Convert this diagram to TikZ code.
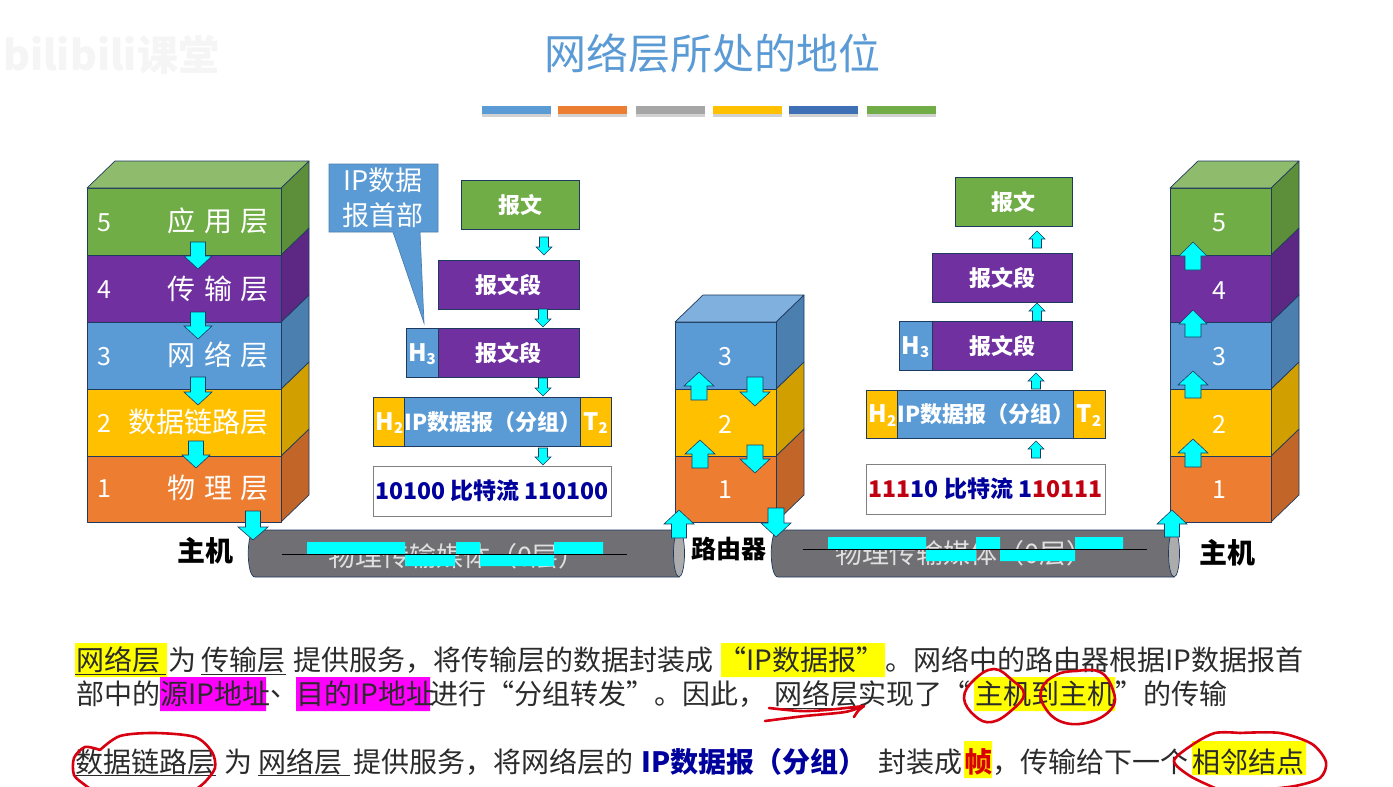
\documentclass[tikz,border=0pt]{standalone}
\usepackage{fontspec}
\setmainfont{Noto Sans CJK SC}
\usetikzlibrary{calc}
\definecolor{cgreen}{HTML}{70AD47}\definecolor{cgreenS}{HTML}{5D8F3A}\definecolor{cgreenT}{HTML}{8FBC6C}
\definecolor{cpurple}{HTML}{7030A0}\definecolor{cpurpleS}{HTML}{5C2883}
\definecolor{cblue}{HTML}{5B9BD5}\definecolor{cblueS}{HTML}{4A7FB0}\definecolor{cblueT}{HTML}{7FB0DE}
\definecolor{cgold}{HTML}{FFC000}\definecolor{cgoldS}{HTML}{D1A000}
\definecolor{corange}{HTML}{ED7D31}\definecolor{corangeS}{HTML}{C26529}
\definecolor{cnavy}{HTML}{1F3A5F}\definecolor{ink}{HTML}{2B2B2B}\definecolor{ccyan}{HTML}{00FFFF}
\definecolor{cmag}{HTML}{FF00FF}\definecolor{cyel}{HTML}{FFFF00}\definecolor{cred}{HTML}{D80010}
\definecolor{bitblue}{HTML}{00009C}\definecolor{bitred}{HTML}{C00010}
\definecolor{cbar}{HTML}{3F6FB5}\definecolor{ccable}{HTML}{707074}
\newcommand{\fs}[1]{\fontsize{#1}{#1}\selectfont}
\newcommand{\lowidx}[1]{\raisebox{-3.5pt}{\fs{15}#1}}
\tikzset{
 edge/.style={draw=cnavy,line width=.7pt,line join=round},
 stacklabel/.style={text=white,font=\fs{28},inner sep=0pt,anchor=east},
 numlabel/.style={text=white,font=\fs{25},inner sep=0pt},
 hostlabel/.style={text=black,font=\fs{28}\bfseries,inner sep=0pt},
 para/.style={text=ink,font=\fs{28},inner sep=0pt,anchor=west},
 uline/.style={draw=ink,line width=.9pt},
 blockarrow/.style={fill=ccyan,draw=cnavy,line width=.6pt,line join=miter},
 pen/.style={draw=cred,line width=2.6pt,line cap=round,line join=round},
}
% \boxn{name}{x0}{y0}{x1}{y1}{fill}{text}
\newcommand{\boxn}[7]{\path let \n1={#4-#2},\n2={#5-#3} in node[draw=cnavy,line width=.7pt,fill=#6,inner sep=0pt,outer sep=0pt,
   minimum width=\n1*1pt,minimum height=\n2*1pt,text height=17pt,text depth=0pt,text=white,font=\fs{22}\bfseries] (#1) at ({(#2+#4)/2},{(#3+#5)/2}) {#7};}
% \layer{x0}{x1}{ytop}{ybot}{front}{side}
\newcommand{\layer}[6]{%
 \path[edge,fill=#6] (#2,#3) -- ++(28,-27) -- ++(0,#4-#3) -- (#2,#4) -- cycle;
 \path[edge,fill=#5] (#1,#3) rectangle (#2,#4);}
\newcommand{\topface}[4]{\path[edge,fill=#4] (#1,#3) -- ++(28,-27) -- ++(#2-#1,0) -- (#2,#3) -- cycle;}
% \adown{cx}{ytop}{ytip}{headhalf}{shafthalf}{headlen}
\newcommand{\adown}[6]{\path[blockarrow] ({#1-#5},#2) -- ({#1+#5},#2) -- ({#1+#5},{#3-#6}) -- ({#1+#4},{#3-#6}) -- (#1,#3) -- ({#1-#4},{#3-#6}) -- ({#1-#5},{#3-#6}) -- cycle;}
% \aup{cx}{ytip}{ybot}{headhalf}{shafthalf}{headlen}
\newcommand{\aup}[6]{\path[blockarrow] ({#1-#5},#3) -- ({#1+#5},#3) -- ({#1+#5},{#2+#6}) -- ({#1+#4},{#2+#6}) -- (#1,#2) -- ({#1-#4},{#2+#6}) -- ({#1-#5},{#2+#6}) -- cycle;}
% \cable{x0}{x1}
\newcommand{\cable}[2]{%
 \path[edge,fill=ccable] ({#1+7},530) -- ({#2-5},530) -- ({#2-5},577) -- ({#1+7},577) .. controls ({#1-2},577) and ({#1-2},530) .. ({#1+7},530) -- cycle;
 \path[edge,fill=gray!65] ({#2-5},553.5) ellipse[x radius=5.5,y radius=23.5];}
\begin{document}
\begin{tikzpicture}[x=1pt,y=-1pt]
\useasboundingbox (0,0) rectangle (1393,787);
\fill[white] (0,0) rectangle (1393,787);
% watermark
\node[text=black!4,font=\fs{41}\bfseries,inner sep=0pt,anchor=west] (wm) at (3,55) {bilibili课堂};
% title
\node[text=cblue,font=\fs{42},inner sep=0pt] (title) at (712,53) {网络层所处的地位};
% bars
\foreach \xa/\c in {482/cblue,558/corange,636/gray!70,713/cgold,789/cbar,867/cgreen}{
 \fill[black!18] (\xa,108) rectangle ({\xa+69},117);
 \fill[\c] (\xa,106) rectangle ({\xa+69},114);
}
% left stack
\layer{87}{281}{456}{522}{corange}{corangeS}
\layer{87}{281}{389}{456}{cgold}{cgoldS}
\layer{87}{281}{322}{389}{cblue}{cblueS}
\layer{87}{281}{255}{322}{cpurple}{cpurpleS}
\layer{87}{281}{188}{255}{cgreen}{cgreenS}
\topface{87}{281}{188}{cgreenT}
\node[numlabel] (ln5) at (104,223) {5};
\node[numlabel] (ln4) at (104,290) {4};
\node[numlabel] (ln3) at (104,357) {3};
\node[numlabel] (ln2) at (104,423) {2};
\node[numlabel] (ln1) at (104,489) {1};
\node[stacklabel] (ll5) at (269,221) {应\hspace{8.5pt}用\hspace{8.5pt}层};
\node[stacklabel] (ll4) at (269,289) {传\hspace{8.5pt}输\hspace{8.5pt}层};
\node[stacklabel] (ll3) at (269,355) {网\hspace{8.5pt}络\hspace{8.5pt}层};
\node[stacklabel] (ll2) at (269,422) {数据链路层};
\node[stacklabel] (ll1) at (269,488) {物\hspace{8.5pt}理\hspace{8.5pt}层};
% router stack
\layer{675}{776}{456}{522}{corange}{corangeS}
\layer{675}{776}{389}{456}{cgold}{cgoldS}
\layer{675}{776}{322}{389}{cblue}{cblueS}
\topface{675}{776}{322}{cblueT}
\node[numlabel] (rn3) at (725,357) {3};
\node[numlabel] (rn2) at (725,424) {2};
\node[numlabel] (rn1) at (725,490) {1};
% right stack
\layer{1170}{1271}{456}{522}{corange}{corangeS}
\layer{1170}{1271}{389}{456}{cgold}{cgoldS}
\layer{1170}{1271}{322}{389}{cblue}{cblueS}
\layer{1170}{1271}{255}{322}{cpurple}{cpurpleS}
\layer{1170}{1271}{188}{255}{cgreen}{cgreenS}
\topface{1170}{1271}{188}{cgreenT}
\node[numlabel] (hn5) at (1219,223) {5};
\node[numlabel] (hn4) at (1219,291) {4};
\node[numlabel] (hn3) at (1219,357) {3};
\node[numlabel] (hn2) at (1219,424) {2};
\node[numlabel] (hn1) at (1219,490) {1};
% callout
\path[draw=cblueS,line width=.7pt,fill=cblue] (329,164) -- (438,164) -- (438,232) -- (420,232) -- (424,323) -- (393,232) -- (329,232) -- cycle;
\node[text=white,font=\fontsize{27}{35}\selectfont,align=center,inner sep=0pt] (callout) at (383,198) {IP数据\\报首部};
% left encapsulation
\boxn{a1}{461}{180}{579}{229}{cgreen}{报文}
\boxn{a2}{438}{260}{579}{309}{cpurple}{报文段}
\boxn{a3h}{406}{328}{438}{377}{cblue}{\fs{24}H\lowidx{3}}
\boxn{a3}{438}{328}{579}{377}{cpurple}{报文段}
\boxn{a4h}{373}{397}{406}{446}{cgold}{\fs{24}H\lowidx{2}}
\boxn{a4}{406}{397}{580}{446}{cblue}{IP数据报（分组）}
\boxn{a4t}{580}{397}{611}{446}{cgold}{\fs{24}T\lowidx{2}}
\path node[draw=gray,line width=.7pt,fill=white,inner sep=0pt,minimum width=238pt,minimum height=50pt,text height=17pt,text depth=0pt,font=\fs{23}\bfseries,text=bitblue] (a5) at (492,491) {10100 比特流 110100};
% right encapsulation
\boxn{b1}{955}{177}{1072}{226}{cgreen}{报文}
\boxn{b2}{932}{253}{1072}{302}{cpurple}{报文段}
\boxn{b3h}{899}{321}{932}{370}{cblue}{\fs{24}H\lowidx{3}}
\boxn{b3}{932}{321}{1072}{370}{cpurple}{报文段}
\boxn{b4h}{866}{390}{899}{438}{cgold}{\fs{24}H\lowidx{2}}
\boxn{b4}{899}{390}{1073}{438}{cblue}{IP数据报（分组）}
\boxn{b4t}{1073}{390}{1105}{438}{cgold}{\fs{24}T\lowidx{2}}
\path node[draw=gray,line width=.7pt,fill=white,inner sep=0pt,minimum width=239pt,minimum height=50pt,text height=17pt,text depth=0pt,font=\fs{23}\bfseries,text=bitblue] (b5) at (985.5,489) {\textcolor{bitred}{111}10 比特流 1\textcolor{bitred}{10111}};
% small arrows left
\adown{544}{237}{255}{8}{4.5}{8}
\adown{543}{309}{327}{8}{4.5}{8}
\adown{543}{378}{396}{8}{4.5}{8}
\adown{543}{448}{465}{8}{4.5}{8}
% small arrows right
\aup{1037}{231}{248}{8}{4.5}{8}
\aup{1037}{303}{321}{8}{4.5}{8}
\aup{1036}{373}{389}{8}{4.5}{8}
\aup{1036}{441}{458}{8}{4.5}{8}
% cables
\cable{248}{684}
\cable{771}{1179}
\node[text=black!12,font=\fs{27},inner sep=0pt] (ct1) at (457,556) {物理传输媒体（0层）};
\node[text=black!12,font=\fs{27},inner sep=0pt] (ct2) at (964,553) {物理传输媒体（0层）};
% signals left
\fill[ccyan] (307,542) rectangle (405,554) (456,542) rectangle (480,554) (554,542) rectangle (603,554)
 (405,554) rectangle (455,566) (480,554) rectangle (554,566);
\draw[black,line width=.8pt] (282,554) -- (627,554);
% signals right
\fill[ccyan] (828,537) rectangle (926,549) (976,537) rectangle (1000,549) (1075,537) rectangle (1123,549)
 (926,549) rectangle (976,561) (1000,549) rectangle (1075,561);
\draw[black,line width=.8pt] (803,549) -- (1147,549);
% labels
\node[hostlabel] (h1) at (205,551) {主机};
\node[hostlabel,font=\fs{25}\bfseries] (r1) at (729,549) {路由器};
\node[hostlabel] (h2) at (1227,553) {主机};
% big arrows left
\adown{198}{242}{269}{14}{7.5}{13}
\adown{198}{312}{339}{14}{7.5}{13}
\adown{198}{377}{405}{14}{7.5}{13}
\adown{196}{441}{468}{14}{7.5}{13}
\adown{253}{511}{540}{15}{7.5}{13}
% router arrows
\aup{679}{510}{538}{15}{7.5}{14}
\aup{699}{372}{400}{15}{8}{14}
\aup{700}{440}{468}{15}{8}{14}
\adown{755}{377}{406}{15}{8}{14}
\adown{755}{445}{473}{15}{8}{14}
\adown{776}{508}{537}{15}{8}{14}
% right stack arrows
\aup{1193}{242}{270}{14}{8}{14}
\aup{1193}{310}{337}{14}{8}{14}
\aup{1193}{371}{398}{15}{8}{14}
\aup{1193}{439}{467}{15}{8}{14}
\aup{1172}{510}{537}{15}{7.5}{14}
% highlights
\fill[cyel] (75,643) rectangle (167,677) (721,643) rectangle (885,677) (974,677) rectangle (1115,711)
 (964,741) rectangle (992,778) (1192,741) rectangle (1306,775);
\fill[cmag] (160,677) rectangle (266,711) (296,677) rectangle (430,711);
% paragraph line 1
\node[para] (t1a) at (76,660) {网络层};
\node[para] (t1b) at (168,660) {为};
\node[para] (t1c) at (201,660) {传输层};
\node[para] (t1d) at (293,660) {提供服务，将传输层的数据封装成};
\node[para] (t1e) at (718,660) {“IP数据报”};
\node[para] (t1f) at (885,660) {。网络中的路由器根据IP数据报首};
\draw[uline] (75,674) -- (166,674) (201,674) -- (286,674);
% line 2
\node[para] (t2a) at (76,694) {部中的};
\node[para] (t2b) at (160,694) {源IP地址};
\node[para] (t2c) at (270,694) {、};
\node[para] (t2d) at (296,694) {目的IP地址};
\node[para] (t2e) at (430,694) {进行“分组转发”。因此，};
\node[para] (t2f) at (774,694) {网络层实现了“};
\node[para] (t2g) at (975,694) {主机到主机};
\node[para] (t2h) at (1115,694) {”的传输};
\draw[uline] (774,708) -- (862,708);
% line 3
\node[para] (t3a) at (75,762) {数据链路层};
\node[para] (t3b) at (224,762) {为};
\node[para] (t3c) at (258,762) {网络层};
\node[para] (t3d) at (353,762) {提供服务，将网络层的};
\node[para,text=bitblue,font=\fs{28}\bfseries] (t3e) at (641,762) {IP数据报（分组）};
\node[para] (t3f) at (878,762) {封装成};
\node[para,text=red!85!black,font=\fs{28}\bfseries] (t3g) at (964,762) {帧};
\node[para] (t3h) at (992,762) {，传输给下一个};
\node[para] (t3i) at (1192,762) {相邻结点};
\draw[uline] (73,775) -- (216,775) (258,775) -- (350,775);
% red pen
\draw[pen] plot[smooth] coordinates {(769,708) (800,711) (826,710) (864,706)};
\draw[pen] plot[smooth] coordinates {(864,706) (845,712) (805,716) (765,721)};
\draw[pen] plot[smooth] coordinates {(864,706) (858,711) (854,717)};
\draw[pen] plot[smooth cycle,tension=.7] coordinates {(994,669) (1012,680) (1024,694) (1012,710) (992,722) (975,716) (964,698) (974,680)};
\draw[pen] plot[smooth cycle,tension=.7] coordinates {(1075,671) (1100,672) (1113,690) (1112,708) (1090,722) (1062,722) (1044,706) (1042,688) (1056,675)};
\draw[pen] plot[smooth] coordinates {(1240,733) (1280,733) (1312,744) (1326,762) (1320,778) (1295,786) (1260,790)};
\draw[pen] plot[smooth] coordinates {(1240,733) (1215,733) (1192,745) (1174,761) (1190,776) (1215,788)};
\draw[pen] plot[smooth] coordinates {(100,750) (120,736) (155,733) (195,737) (212,752) (215,768) (205,782) (195,790)};
\draw[pen] plot[smooth] coordinates {(100,750) (85,747) (74,758) (74,775) (85,785) (92,790)};
\end{tikzpicture}
\end{document}
